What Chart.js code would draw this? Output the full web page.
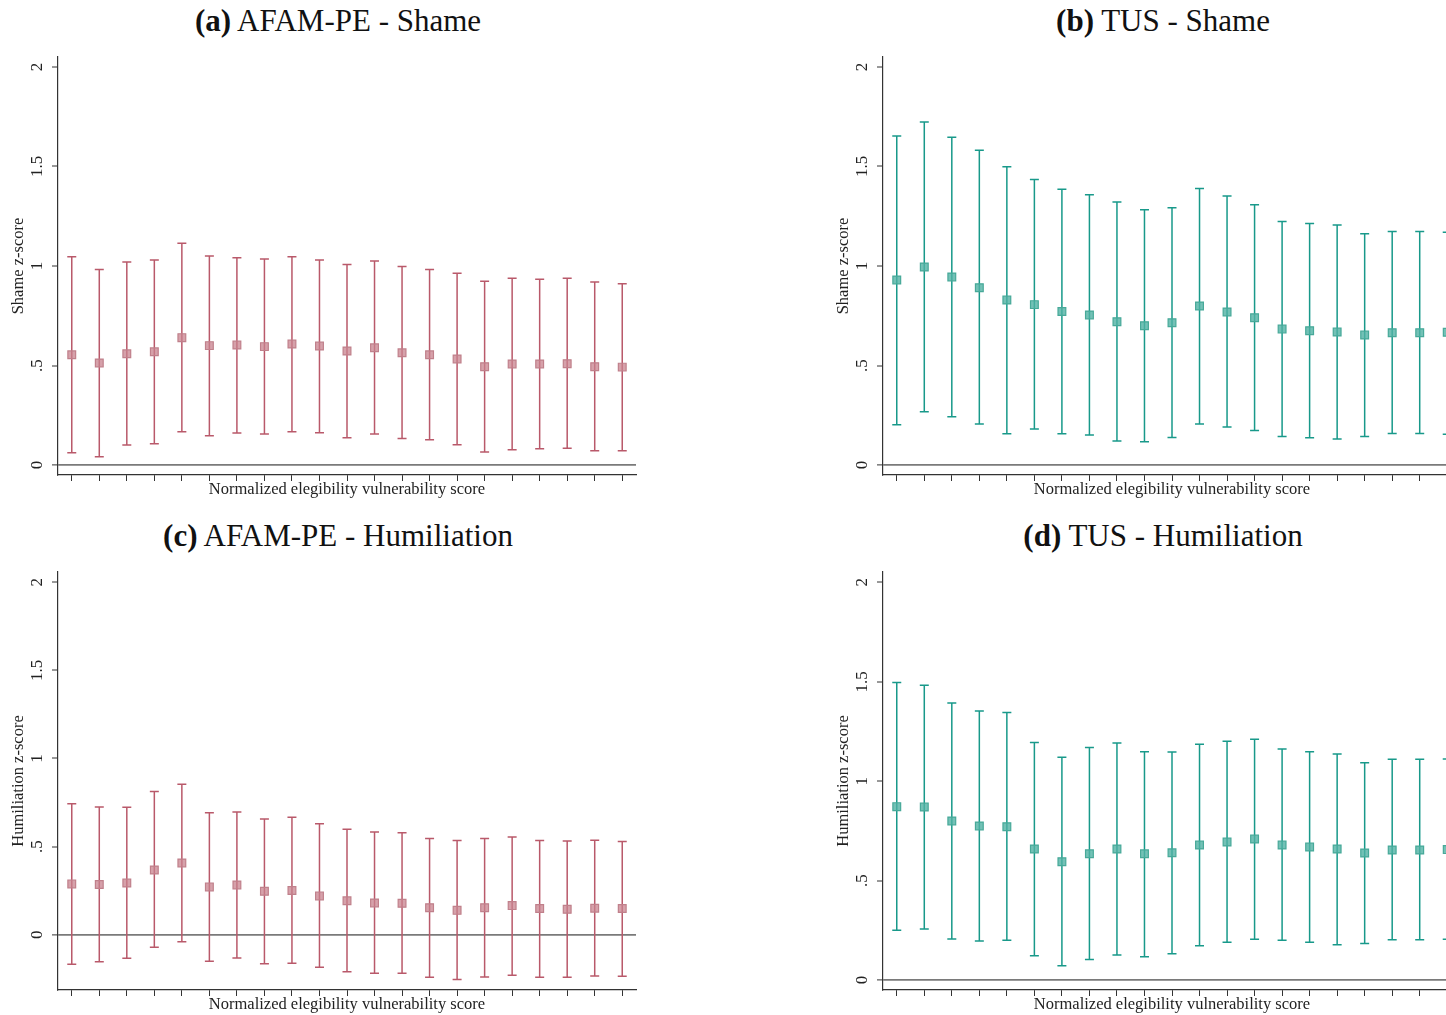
<!DOCTYPE html>
<html>
<head>
<meta charset="utf-8">
<script src="https://cdn.jsdelivr.net/npm/chart.js@4.4.1/dist/chart.umd.min.js"></script>
<style>
  html, body { margin: 0; padding: 0; background: #fff; }
  body { width: 1446px; height: 1015px; overflow: hidden; position: relative; }
  .title {
    position: absolute; width: 676px; height: 42px; line-height: 42px;
    text-align: center; font-family: "Liberation Serif", "Times New Roman", serif;
    font-size: 31px; color: #111; white-space: nowrap;
  }
  canvas { position: absolute; }
</style>
</head>
<body>
<div class="title" style="left:0; top:0;"><b>(a)</b> AFAM-PE - Shame</div>
<div class="title" style="left:825px; top:0;"><b>(b)</b> TUS - Shame</div>
<div class="title" style="left:0; top:515px;"><b>(c)</b> AFAM-PE - Humiliation</div>
<div class="title" style="left:825px; top:515px;"><b>(d)</b> TUS - Humiliation</div>
<canvas id="chartA" width="676" height="470" style="left:0; top:40px;"></canvas>
<canvas id="chartB" width="676" height="470" style="left:825px; top:40px;"></canvas>
<canvas id="chartC" width="676" height="470" style="left:0; top:555px;"></canvas>
<canvas id="chartD" width="676" height="470" style="left:825px; top:555px;"></canvas>
<script>
// 21 bins of the normalized score (no labels shown on the axis)
const scoreBins = ["1","2","3","4","5","6","7","8","9","10","11","12","13","14","15","16","17","18","19","20","21"];

const yTicks = [0, 0.5, 1, 1.5, 2];
const yTickLabels = ["0", ".5", "1", "1.5", "2"];

// (a) AFAM-PE - Shame
const afamShameEst = [0.554, 0.513, 0.559, 0.569, 0.640, 0.600, 0.603, 0.595, 0.608, 0.598, 0.573, 0.589, 0.564, 0.554, 0.533, 0.494, 0.508, 0.508, 0.509, 0.494, 0.492];
const afamShameHi = [1.047, 0.983, 1.020, 1.030, 1.114, 1.050, 1.042, 1.035, 1.047, 1.030, 1.007, 1.025, 0.997, 0.982, 0.963, 0.923, 0.938, 0.933, 0.938, 0.920, 0.911];
const afamShameLo = [0.062, 0.042, 0.101, 0.107, 0.167, 0.147, 0.161, 0.156, 0.167, 0.162, 0.137, 0.156, 0.134, 0.127, 0.102, 0.065, 0.077, 0.082, 0.085, 0.072, 0.072];

// (b) TUS - Shame
const tusShameEst = [0.930, 0.995, 0.945, 0.891, 0.829, 0.806, 0.771, 0.754, 0.720, 0.700, 0.715, 0.799, 0.769, 0.740, 0.683, 0.675, 0.668, 0.653, 0.665, 0.665, 0.667];
const tusShameHi = [1.653, 1.724, 1.647, 1.581, 1.499, 1.434, 1.385, 1.358, 1.322, 1.283, 1.293, 1.389, 1.352, 1.308, 1.223, 1.214, 1.206, 1.162, 1.173, 1.173, 1.170];
const tusShameLo = [0.203, 0.268, 0.243, 0.206, 0.157, 0.181, 0.157, 0.151, 0.121, 0.117, 0.139, 0.206, 0.191, 0.174, 0.144, 0.137, 0.131, 0.144, 0.159, 0.159, 0.155];

// (c) AFAM-PE - Humiliation
const afamHumEst = [0.288, 0.285, 0.293, 0.367, 0.407, 0.271, 0.282, 0.246, 0.251, 0.220, 0.192, 0.180, 0.178, 0.153, 0.138, 0.153, 0.165, 0.148, 0.144, 0.150, 0.148];
const afamHumHi = [0.743, 0.725, 0.723, 0.812, 0.854, 0.692, 0.696, 0.657, 0.666, 0.630, 0.598, 0.583, 0.579, 0.545, 0.534, 0.545, 0.554, 0.534, 0.532, 0.536, 0.528];
const afamHumLo = [-0.168, -0.153, -0.134, -0.072, -0.040, -0.151, -0.132, -0.165, -0.162, -0.185, -0.210, -0.219, -0.219, -0.242, -0.255, -0.240, -0.230, -0.242, -0.242, -0.234, -0.236];

// (d) TUS - Humiliation
const tusHumEst = [0.872, 0.870, 0.800, 0.775, 0.771, 0.659, 0.595, 0.635, 0.659, 0.635, 0.640, 0.679, 0.694, 0.709, 0.679, 0.669, 0.659, 0.639, 0.654, 0.654, 0.656];
const tusHumHi = [1.496, 1.482, 1.393, 1.353, 1.345, 1.194, 1.120, 1.169, 1.192, 1.148, 1.147, 1.186, 1.201, 1.211, 1.162, 1.148, 1.137, 1.093, 1.110, 1.110, 1.112];
const tusHumLo = [0.250, 0.257, 0.206, 0.196, 0.200, 0.122, 0.072, 0.104, 0.126, 0.117, 0.132, 0.173, 0.190, 0.205, 0.200, 0.190, 0.178, 0.184, 0.203, 0.203, 0.205];

const red = { line: "#b9596a", fill: "rgba(200, 130, 142, 0.75)", border: "#c0808b" };
const teal = { line: "#18998a", fill: "rgba(80, 178, 164, 0.8)", border: "#47a999" };

Chart.defaults.font.family = '"Liberation Serif", "Times New Roman", serif';
Chart.defaults.color = "#222";

// draws the confidence intervals (whiskers with caps) under the markers
const errorBars = {
  id: "errorBars",
  beforeDatasetsDraw(chart) {
    const { ctx, scales: { x, y } } = chart;
    chart.data.datasets.forEach((ds) => {
      if (!ds.lower) return;
      ctx.save();
      ctx.strokeStyle = ds.whiskerColor;
      ctx.lineWidth = 1.5;
      ds.lower.forEach((lo, i) => {
        const px = x.getPixelForValue(i);
        const top = y.getPixelForValue(ds.upper[i]);
        const bot = y.getPixelForValue(lo);
        ctx.beginPath();
        ctx.moveTo(px, top);
        ctx.lineTo(px, bot);
        ctx.moveTo(px - 4.5, top);
        ctx.lineTo(px + 4.5, top);
        ctx.moveTo(px - 4.5, bot);
        ctx.lineTo(px + 4.5, bot);
        ctx.stroke();
      });
      ctx.restore();
    });
  },
};

function makePanel(id, est, lo, hi, col, yTitle, yMin, yMax) {
  return new Chart(document.getElementById(id), {
    type: "line",
    data: {
      labels: scoreBins,
      datasets: [
        {
          data: est,
          lower: lo,
          upper: hi,
          whiskerColor: col.line,
          showLine: false,
          pointStyle: "rect",
          pointRadius: 5.5,
          pointBackgroundColor: col.fill,
          pointBorderColor: col.border,
          pointBorderWidth: 1.2,
        },
      ],
    },
    options: {
      responsive: false,
      animation: false,
      devicePixelRatio: 1,
      layout: { padding: { top: 17, right: 40, bottom: 0, left: 0 } },
      plugins: {
        legend: { display: false },
        tooltip: { enabled: false },
      },
      scales: {
        x: {
          type: "category",
          offset: true,
          grid: {
            offset: false,
            drawOnChartArea: false,
            tickLength: 6,
            tickColor: "#333",
          },
          border: { color: "#333", width: 1.2 },
          ticks: { display: false },
          title: {
            display: true,
            text: "Normalized elegibility vulnerability score",
            font: { size: 16.5 },
            padding: { top: 0, bottom: 10 },
          },
          afterFit(scale) {
            scale.height = 35;
          },
        },
        y: {
          min: yMin,
          max: yMax,
          afterBuildTicks(scale) {
            scale.ticks = yTicks.map((v) => ({ value: v }));
          },
          grid: {
            color: (c) => (c.tick && c.tick.value === 0 ? "#7a7a7a" : "rgba(0,0,0,0)"),
            lineWidth: (c) => (c.tick && c.tick.value === 0 ? 1.8 : 0),
            tickLength: 6,
            tickColor: "#333",
            tickWidth: 1,
          },
          border: { color: "#333", width: 1.2 },
          ticks: {
            minRotation: 90,
            maxRotation: 90,
            crossAlign: "center",
            padding: 4,
            font: { size: 17 },
            callback: (v) => yTickLabels[yTicks.indexOf(v)],
          },
          title: {
            display: true,
            text: yTitle,
            font: { size: 16.5 },
            padding: { top: 9, bottom: 0 },
          },
          afterFit(scale) {
            scale.width = 58;
          },
        },
      },
    },
    plugins: [errorBars],
  });
}

makePanel("chartA", afamShameEst, afamShameLo, afamShameHi, red, "Shame z-score", -0.05, 2.05);
makePanel("chartB", tusShameEst, tusShameLo, tusShameHi, teal, "Shame z-score", -0.05, 2.05);
makePanel("chartC", afamHumEst, afamHumLo, afamHumHi, red, "Humiliation z-score", -0.314, 2.058);
makePanel("chartD", tusHumEst, tusHumLo, tusHumHi, teal, "Humiliation z-score", -0.05, 2.052);
</script>
</body>
</html>
